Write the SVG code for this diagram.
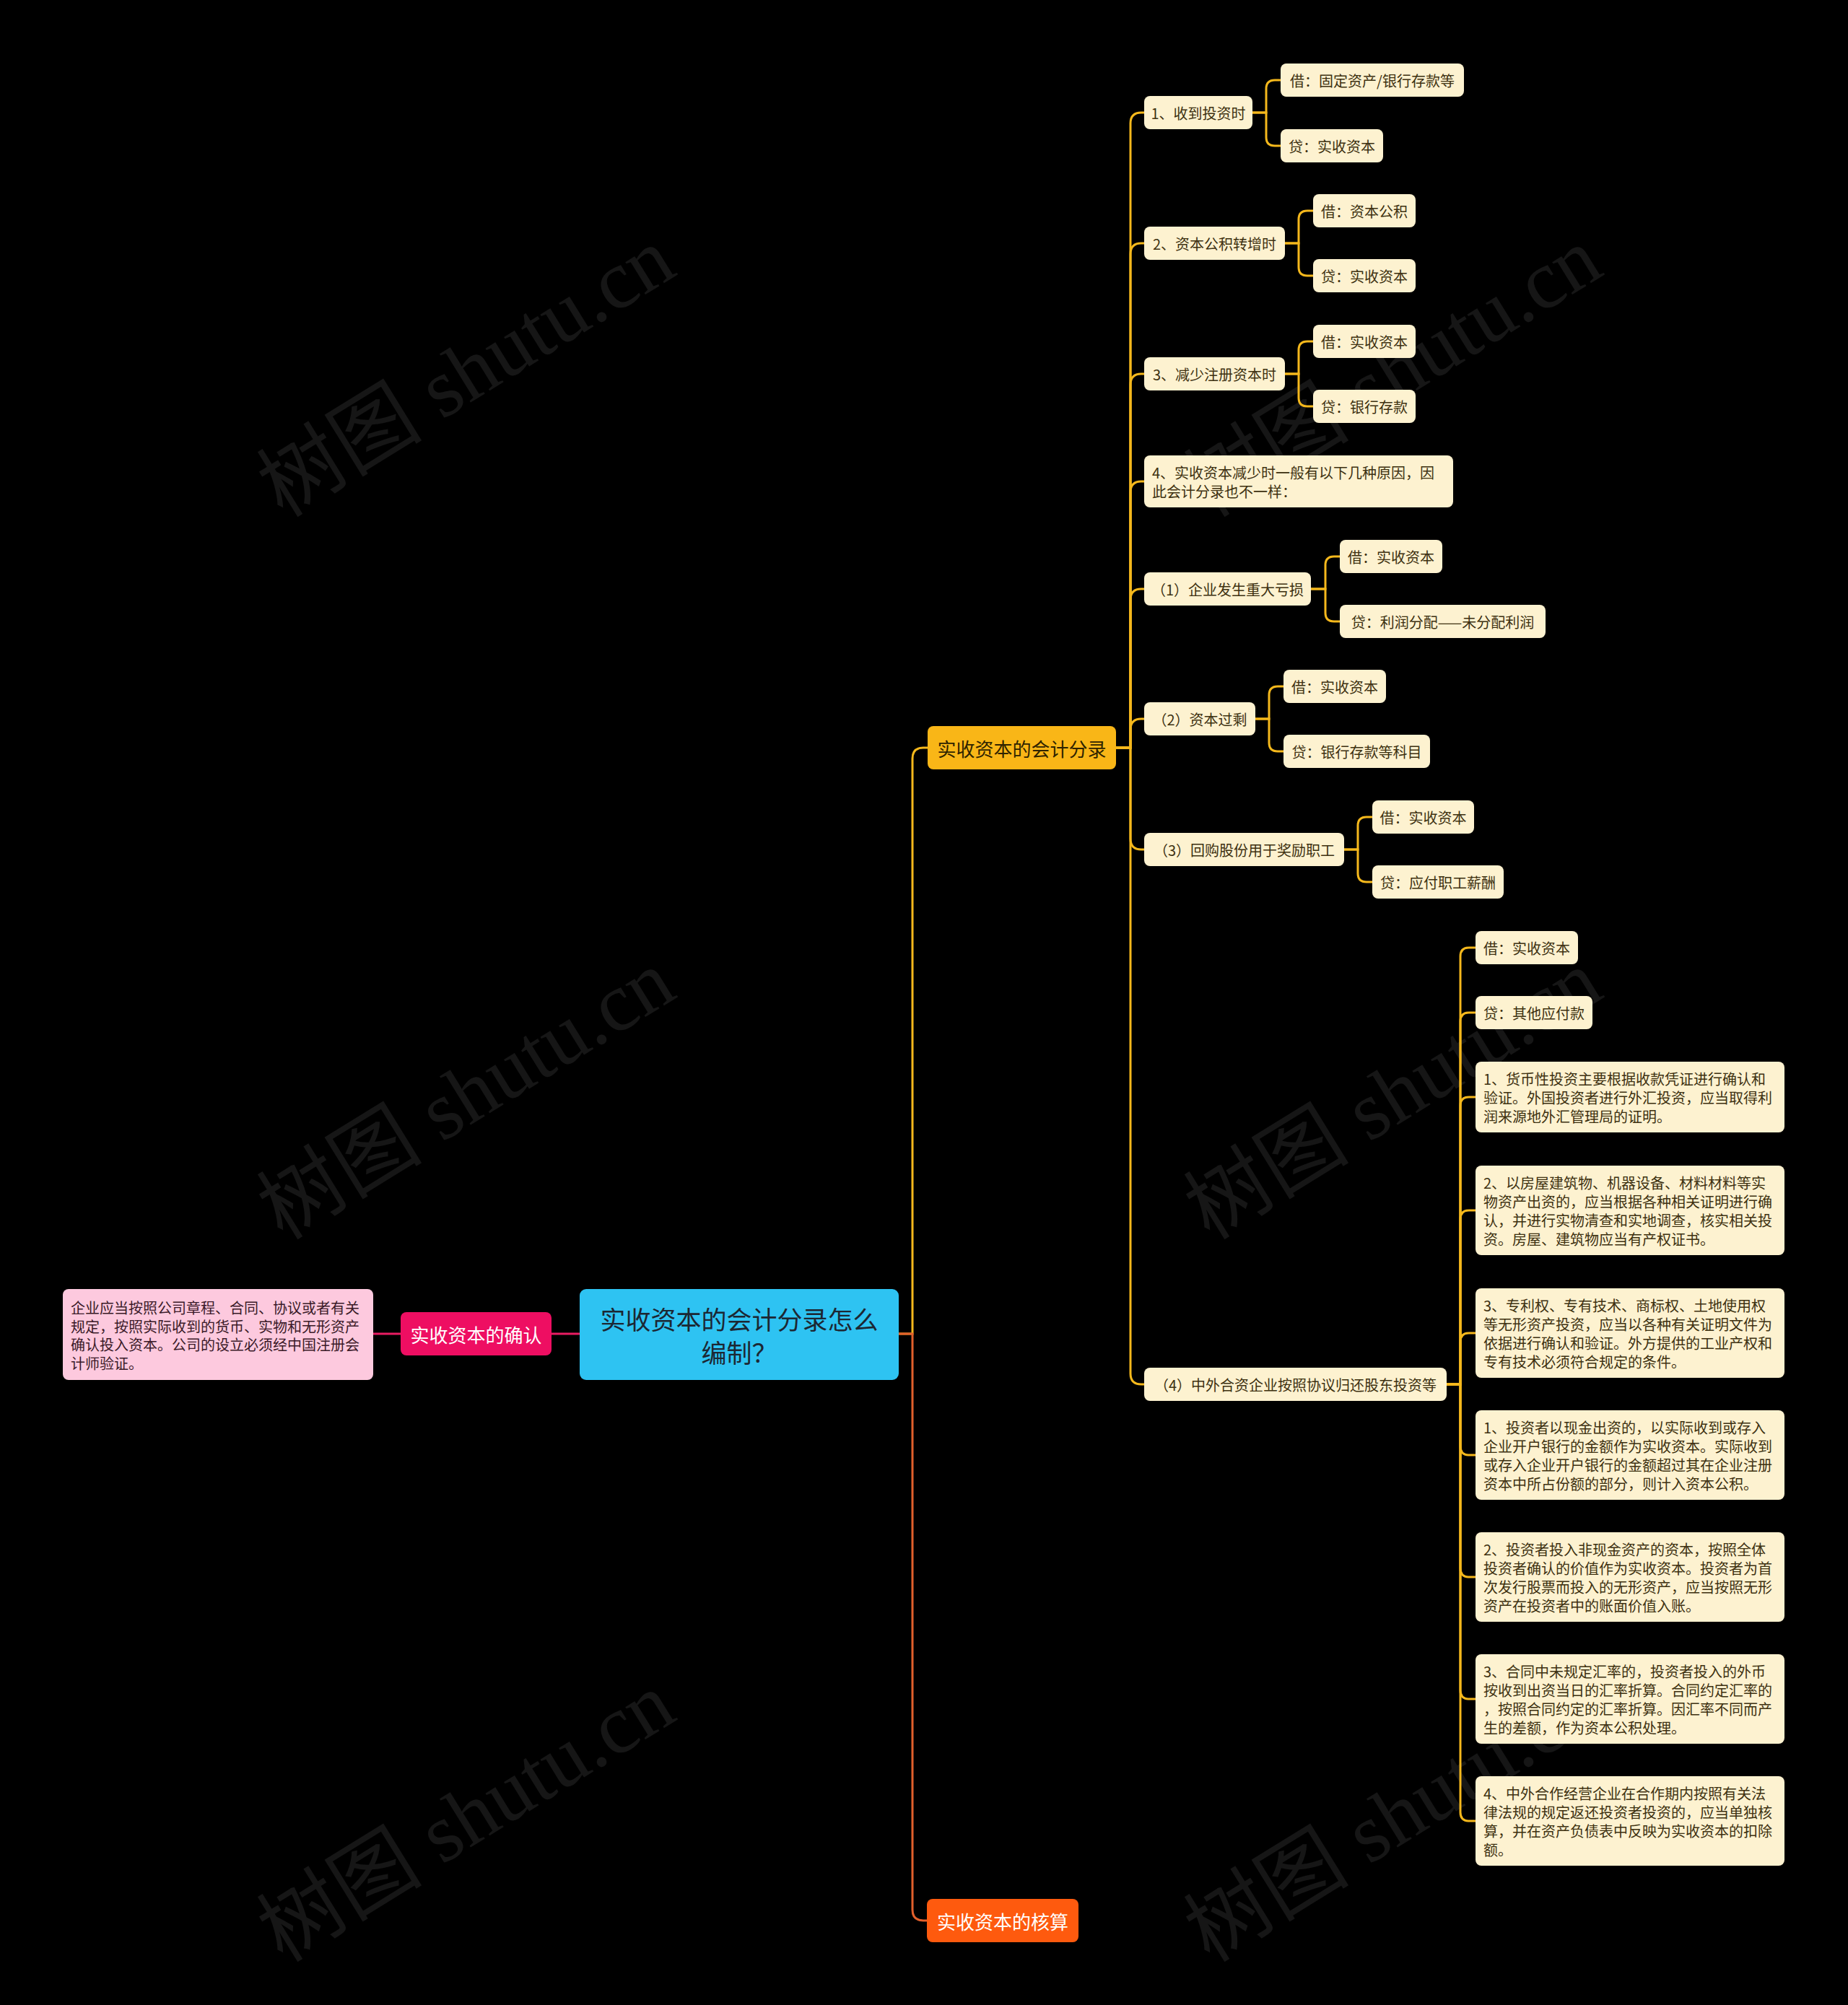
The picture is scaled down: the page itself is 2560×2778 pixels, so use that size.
<svg xmlns="http://www.w3.org/2000/svg" width="2560" height="2778" viewBox="0 0 2560 2778">
<style>
.bg{fill:#000}
.wm{font-family:"Liberation Serif","Noto Sans CJK SC",serif;font-size:115px;fill:#fff;fill-opacity:0.085;text-anchor:middle;dominant-baseline:central}
.lf{fill:#fdf2d0}
.t{font-family:"Noto Sans CJK SC","Noto Sans",sans-serif;font-size:20px;fill:#3d3110;dominant-baseline:central}
.c{text-anchor:middle}
.ly{fill:none;stroke:#f5b81c;stroke-width:3}
.lo{fill:none;stroke:#e2602c;stroke-width:3}
.lp{fill:none;stroke:#e81c62;stroke-width:3}
</style>
<rect class="bg" x="0" y="0" width="2560" height="2778"/>
<g id="watermarks">
<text class="wm" transform="translate(646,516) rotate(-31.7)">树图 shutu.cn</text>
<text class="wm" transform="translate(1930,516) rotate(-31.7)">树图 shutu.cn</text>
<text class="wm" transform="translate(646,1517) rotate(-31.7)">树图 shutu.cn</text>
<text class="wm" transform="translate(1930,1517) rotate(-31.7)">树图 shutu.cn</text>
<text class="wm" transform="translate(646,2518) rotate(-31.7)">树图 shutu.cn</text>
<text class="wm" transform="translate(1930,2518) rotate(-31.7)">树图 shutu.cn</text>
</g>
<g id="connectors">
<path class="ly" d="M1245,1848 H1264 V1051 Q1264,1036 1279,1036 H1285"/>
<path class="lo" d="M1245,1848 H1264 V2646 Q1264,2661 1279,2661 H1284"/>
<path class="lp" d="M803,1848 H764"/>
<path class="lp" d="M555,1848 H517"/>
<path class="ly" d="M1546,1036 H1566 V171 Q1566,156 1581,156 H1585"/>
<path class="ly" d="M1546,1036 H1566 V352 Q1566,337 1581,337 H1585"/>
<path class="ly" d="M1546,1036 H1566 V533 Q1566,518 1581,518 H1585"/>
<path class="ly" d="M1546,1036 H1566 V682 Q1566,667 1581,667 H1585"/>
<path class="ly" d="M1546,1036 H1566 V831 Q1566,816 1581,816 H1585"/>
<path class="ly" d="M1546,1036 H1566 V1011 Q1566,996 1581,996 H1585"/>
<path class="ly" d="M1546,1036 H1566 V1162 Q1566,1177 1581,1177 H1585"/>
<path class="ly" d="M1546,1036 H1566 V1903 Q1566,1918 1581,1918 H1585"/>
<path class="ly" d="M1735,156 H1754 V123 Q1754,111 1766,111 H1774"/>
<path class="ly" d="M1735,156 H1754 V190 Q1754,202 1766,202 H1774"/>
<path class="ly" d="M1780,337 H1799 V304 Q1799,292 1811,292 H1819"/>
<path class="ly" d="M1780,337 H1799 V370 Q1799,382 1811,382 H1819"/>
<path class="ly" d="M1780,518 H1799 V485 Q1799,473 1811,473 H1819"/>
<path class="ly" d="M1780,518 H1799 V551 Q1799,563 1811,563 H1819"/>
<path class="ly" d="M1816,816 H1836 V783 Q1836,771 1848,771 H1856"/>
<path class="ly" d="M1816,816 H1836 V849 Q1836,861 1848,861 H1856"/>
<path class="ly" d="M1739,996 H1758 V963 Q1758,951 1770,951 H1778"/>
<path class="ly" d="M1739,996 H1758 V1029 Q1758,1041 1770,1041 H1778"/>
<path class="ly" d="M1862,1177 H1881 V1144 Q1881,1132 1893,1132 H1901"/>
<path class="ly" d="M1862,1177 H1881 V1210 Q1881,1222 1893,1222 H1901"/>
<path class="ly" d="M2004,1918 H2023 V1325 Q2023,1313 2035,1313 H2044"/>
<path class="ly" d="M2004,1918 H2023 V1415 Q2023,1403 2035,1403 H2044"/>
<path class="ly" d="M2004,1918 H2023 V1532 Q2023,1520 2035,1520 H2044"/>
<path class="ly" d="M2004,1918 H2023 V1689 Q2023,1677 2035,1677 H2044"/>
<path class="ly" d="M2004,1918 H2023 V1859 Q2023,1847 2035,1847 H2044"/>
<path class="ly" d="M2004,1918 H2023 V2004 Q2023,2016 2035,2016 H2044"/>
<path class="ly" d="M2004,1918 H2023 V2173 Q2023,2185 2035,2185 H2044"/>
<path class="ly" d="M2004,1918 H2023 V2342 Q2023,2354 2035,2354 H2044"/>
<path class="ly" d="M2004,1918 H2023 V2511 Q2023,2523 2035,2523 H2044"/>
</g>
<g id="root">
<rect x="803" y="1786" width="442" height="126" rx="9" fill="#2ec3f2"/>
<text class="t c" x="1024" y="1826" style="font-size:35px;fill:#1c2733">实收资本的会计分录怎么</text>
<text class="t c" x="1024" y="1872" style="font-size:35px;fill:#1c2733">编制？</text>
</g>
<g id="n-confirm">
<rect x="555" y="1818" width="209" height="60" rx="8" fill="#ee0e62"/>
<text class="t c" x="659.5" y="1848" style="font-size:26px;fill:#fff">实收资本的确认</text>
</g>
<g id="n-confirm-text">
<rect x="87" y="1786" width="430" height="126" rx="8" fill="#fdc9de"/>
<text class="t" style="fill:#3a1a28"><tspan x="98" y="1811">企业应当按照公司章程、合同、协议或者有关</tspan><tspan x="98" y="1837">规定，按照实际收到的货币、实物和无形资产</tspan><tspan x="98" y="1862">确认投入资本。公司的设立必须经中国注册会</tspan><tspan x="98" y="1888">计师验证。</tspan></text>
</g>
<g id="n-entries">
<rect x="1285" y="1006" width="261" height="60" rx="8" fill="#f9b617"/>
<text class="t c" x="1415.5" y="1036" style="font-size:26px;fill:#2e2300">实收资本的会计分录</text>
</g>
<g id="n-accounting">
<rect x="1284" y="2631" width="210" height="60" rx="8" fill="#fe5a0e"/>
<text class="t c" x="1389" y="2661" style="font-size:26px;fill:#fff">实收资本的核算</text>
</g>
<g id="n1"><rect class="lf" x="1585" y="133" width="150" height="46" rx="8"/><text class="t c" x="1660" y="156">1、收到投资时</text></g>
<g id="n1a"><rect class="lf" x="1774" y="88" width="254" height="46" rx="8"/><text class="t c" x="1901" y="111">借：固定资产/银行存款等</text></g>
<g id="n1b"><rect class="lf" x="1774" y="179" width="142" height="46" rx="8"/><text class="t c" x="1845" y="202">贷：实收资本</text></g>
<g id="n2"><rect class="lf" x="1585" y="314" width="195" height="46" rx="8"/><text class="t c" x="1682.5" y="337">2、资本公积转增时</text></g>
<g id="n2a"><rect class="lf" x="1819" y="269" width="142" height="46" rx="8"/><text class="t c" x="1890" y="292">借：资本公积</text></g>
<g id="n2b"><rect class="lf" x="1819" y="359" width="142" height="46" rx="8"/><text class="t c" x="1890" y="382">贷：实收资本</text></g>
<g id="n3"><rect class="lf" x="1585" y="495" width="195" height="46" rx="8"/><text class="t c" x="1682.5" y="518">3、减少注册资本时</text></g>
<g id="n3a"><rect class="lf" x="1819" y="450" width="142" height="46" rx="8"/><text class="t c" x="1890" y="473">借：实收资本</text></g>
<g id="n3b"><rect class="lf" x="1819" y="540" width="142" height="46" rx="8"/><text class="t c" x="1890" y="563">贷：银行存款</text></g>
<g id="n4"><rect class="lf" x="1585" y="631" width="428" height="72" rx="8"/><text class="t"><tspan x="1596" y="654">4、实收资本减少时一般有以下几种原因，因</tspan><tspan x="1596" y="680">此会计分录也不一样：</tspan></text></g>
<g id="n5"><rect class="lf" x="1585" y="793" width="231" height="46" rx="8"/><text class="t c" x="1700.5" y="816">（1）企业发生重大亏损</text></g>
<g id="n5a"><rect class="lf" x="1856" y="748" width="142" height="46" rx="8"/><text class="t c" x="1927" y="771">借：实收资本</text></g>
<g id="n5b"><rect class="lf" x="1856" y="838" width="285" height="46" rx="8"/><text class="t c" x="1998.5" y="861">贷：利润分配——未分配利润</text></g>
<g id="n6"><rect class="lf" x="1585" y="973" width="154" height="46" rx="8"/><text class="t c" x="1662" y="996">（2）资本过剩</text></g>
<g id="n6a"><rect class="lf" x="1778" y="928" width="142" height="46" rx="8"/><text class="t c" x="1849" y="951">借：实收资本</text></g>
<g id="n6b"><rect class="lf" x="1778" y="1018" width="203" height="46" rx="8"/><text class="t c" x="1879.5" y="1041">贷：银行存款等科目</text></g>
<g id="n7"><rect class="lf" x="1585" y="1154" width="277" height="46" rx="8"/><text class="t c" x="1723.5" y="1177">（3）回购股份用于奖励职工</text></g>
<g id="n7a"><rect class="lf" x="1901" y="1109" width="141" height="46" rx="8"/><text class="t c" x="1971.5" y="1132">借：实收资本</text></g>
<g id="n7b"><rect class="lf" x="1901" y="1199" width="182" height="46" rx="8"/><text class="t c" x="1992" y="1222">贷：应付职工薪酬</text></g>
<g id="n8"><rect class="lf" x="1585" y="1895" width="419" height="46" rx="8"/><text class="t c" x="1794.5" y="1918">（4）中外合资企业按照协议归还股东投资等</text></g>
<g id="n8a"><rect class="lf" x="2044" y="1290" width="142" height="46" rx="8"/><text class="t c" x="2115" y="1313">借：实收资本</text></g>
<g id="n8b"><rect class="lf" x="2044" y="1380" width="162" height="46" rx="8"/><text class="t c" x="2125" y="1403">贷：其他应付款</text></g>
<g id="n8c"><rect class="lf" x="2044" y="1471" width="428" height="98" rx="8"/><text class="t"><tspan x="2055" y="1494">1、货币性投资主要根据收款凭证进行确认和</tspan><tspan x="2055" y="1520">验证。外国投资者进行外汇投资，应当取得利</tspan><tspan x="2055" y="1546">润来源地外汇管理局的证明。</tspan></text></g>
<g id="n8d"><rect class="lf" x="2044" y="1615" width="428" height="124" rx="8"/><text class="t"><tspan x="2055" y="1638">2、以房屋建筑物、机器设备、材料材料等实</tspan><tspan x="2055" y="1664">物资产出资的，应当根据各种相关证明进行确</tspan><tspan x="2055" y="1690">认，并进行实物清查和实地调查，核实相关投</tspan><tspan x="2055" y="1716">资。房屋、建筑物应当有产权证书。</tspan></text></g>
<g id="n8e"><rect class="lf" x="2044" y="1785" width="428" height="124" rx="8"/><text class="t"><tspan x="2055" y="1808">3、专利权、专有技术、商标权、土地使用权</tspan><tspan x="2055" y="1834">等无形资产投资，应当以各种有关证明文件为</tspan><tspan x="2055" y="1860">依据进行确认和验证。外方提供的工业产权和</tspan><tspan x="2055" y="1886">专有技术必须符合规定的条件。</tspan></text></g>
<g id="n8f"><rect class="lf" x="2044" y="1954" width="428" height="124" rx="8"/><text class="t"><tspan x="2055" y="1977">1、投资者以现金出资的，以实际收到或存入</tspan><tspan x="2055" y="2003">企业开户银行的金额作为实收资本。实际收到</tspan><tspan x="2055" y="2029">或存入企业开户银行的金额超过其在企业注册</tspan><tspan x="2055" y="2055">资本中所占份额的部分，则计入资本公积。</tspan></text></g>
<g id="n8g"><rect class="lf" x="2044" y="2123" width="428" height="124" rx="8"/><text class="t"><tspan x="2055" y="2146">2、投资者投入非现金资产的资本，按照全体</tspan><tspan x="2055" y="2172">投资者确认的价值作为实收资本。投资者为首</tspan><tspan x="2055" y="2198">次发行股票而投入的无形资产，应当按照无形</tspan><tspan x="2055" y="2224">资产在投资者中的账面价值入账。</tspan></text></g>
<g id="n8h"><rect class="lf" x="2044" y="2292" width="428" height="124" rx="8"/><text class="t"><tspan x="2055" y="2315">3、合同中未规定汇率的，投资者投入的外币</tspan><tspan x="2055" y="2341">按收到出资当日的汇率折算。合同约定汇率的</tspan><tspan x="2055" y="2367">，按照合同约定的汇率折算。因汇率不同而产</tspan><tspan x="2055" y="2393">生的差额，作为资本公积处理。</tspan></text></g>
<g id="n8i"><rect class="lf" x="2044" y="2461" width="428" height="124" rx="8"/><text class="t"><tspan x="2055" y="2484">4、中外合作经营企业在合作期内按照有关法</tspan><tspan x="2055" y="2510">律法规的规定返还投资者投资的，应当单独核</tspan><tspan x="2055" y="2536">算，并在资产负债表中反映为实收资本的扣除</tspan><tspan x="2055" y="2562">额。</tspan></text></g>
</svg>
